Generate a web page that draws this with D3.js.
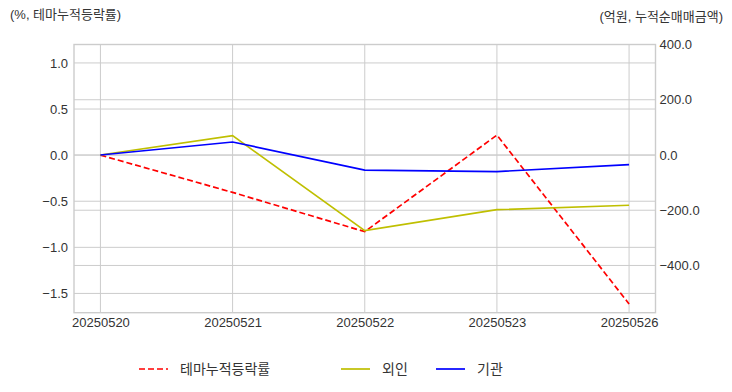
<!DOCTYPE html>
<html>
<head>
<meta charset="utf-8">
<script src="https://cdn.jsdelivr.net/npm/d3@7"></script>
<style>
  body { margin: 0; background: #fff; }
  svg { display: block; font-family: "Liberation Sans", "Noto Sans CJK KR", sans-serif; }
</style>
</head>
<body>
<div id="chart"></div>
<script>
const dates = ["20250520", "20250521", "20250522", "20250523", "20250526"];
const themeReturn = [0, -0.404, -0.83, 0.217, -1.614];
const foreign = [0, 70, -274, -198, -182];
const institution = [0, 47, -55, -60, -35];
const leftTicks = [1.0, 0.5, 0.0, -0.5, -1.0, -1.5];
const rightTicks = [400, 200, 0, -200, -400];

const WIDTH = 732;
const HEIGHT = 392;
const plot = { left: 74, right: 655.5, top: 44.5, bottom: 312.7 };
const GRID = "#cccccc";

const svg = d3.select("#chart").append("svg")
  .attr("width", WIDTH)
  .attr("height", HEIGHT);

const x = d3.scaleLinear()
  .domain([-0.2, dates.length - 1 + 0.2])
  .range([plot.left, plot.right]);
const yLeft = d3.scaleLinear().domain([-1.709, 1.2]).range([plot.bottom, plot.top]);
const yRight = d3.scaleLinear().domain([-571, 400]).range([plot.bottom, plot.top]);

// grid: left ticks, right ticks, x ticks
const grid = svg.append("g").attr("stroke", GRID).attr("stroke-width", 1);
leftTicks.forEach((t) => {
  grid.append("line").attr("x1", plot.left).attr("x2", plot.right)
    .attr("y1", yLeft(t)).attr("y2", yLeft(t));
});
rightTicks.forEach((t) => {
  grid.append("line").attr("x1", plot.left).attr("x2", plot.right)
    .attr("y1", yRight(t)).attr("y2", yRight(t));
});
dates.forEach((d, i) => {
  grid.append("line").attr("x1", x(i)).attr("x2", x(i))
    .attr("y1", plot.top).attr("y2", plot.bottom);
});

svg.append("rect")
  .attr("x", plot.left).attr("y", plot.top)
  .attr("width", plot.right - plot.left).attr("height", plot.bottom - plot.top)
  .attr("fill", "none").attr("stroke", GRID).attr("stroke-width", 1.4);

// axes
const leftAxis = svg.append("g")
  .attr("transform", `translate(${plot.left},0)`)
  .call(d3.axisLeft(yLeft).tickValues(leftTicks).tickFormat(d3.format(".1f")).tickSize(0).tickPadding(6));
const rightAxis = svg.append("g")
  .attr("transform", `translate(${plot.right},0)`)
  .call(d3.axisRight(yRight).tickValues(rightTicks).tickFormat(d3.format(".1f")).tickSize(0).tickPadding(4));
const bottomAxis = svg.append("g")
  .attr("transform", `translate(0,${plot.bottom})`)
  .call(d3.axisBottom(x).tickValues(d3.range(dates.length)).tickFormat((i) => dates[i]).tickSize(0).tickPadding(5));
[leftAxis, rightAxis, bottomAxis].forEach((a) => {
  a.select(".domain").remove();
  a.selectAll("text").attr("font-size", 13).attr("fill", "#333");
});

// lines
const series = [
  { name: "테마누적등락률", values: themeReturn, y: yLeft, color: "#ff0000", dash: "6,3" },
  { name: "외인", values: foreign, y: yRight, color: "#bfbf00", dash: null },
  { name: "기관", values: institution, y: yRight, color: "#0000ff", dash: null },
];

series.forEach((s) => {
  const line = d3.line().x((d, i) => x(i)).y((d) => s.y(d));
  svg.append("path")
    .datum(s.values)
    .attr("d", line)
    .attr("fill", "none")
    .attr("stroke", s.color)
    .attr("stroke-width", 1.7)
    .attr("stroke-dasharray", s.dash);
});

// axis titles
svg.append("text").attr("x", 10).attr("y", 19)
  .attr("font-size", 13).attr("fill", "#333").text("(%, 테마누적등락률)");
svg.append("text").attr("x", 723).attr("y", 21).attr("text-anchor", "end")
  .attr("font-size", 13).attr("fill", "#333").text("(억원, 누적순매매금액)");

// legend
const legendItems = [
  { s: series[0], x: 139 },
  { s: series[1], x: 341 },
  { s: series[2], x: 436 },
];
legendItems.forEach(({ s, x: lx }) => {
  const g = svg.append("g").attr("transform", `translate(${lx},369)`);
  g.append("line").attr("x1", 0).attr("x2", 29).attr("y1", 0).attr("y2", 0)
    .attr("stroke", s.color).attr("stroke-width", 1.7)
    .attr("stroke-dasharray", s.dash);
  g.append("text").attr("x", 41).attr("y", 5)
    .attr("font-size", 14).attr("fill", "#333").text(s.name);
});
</script>
</body>
</html>
